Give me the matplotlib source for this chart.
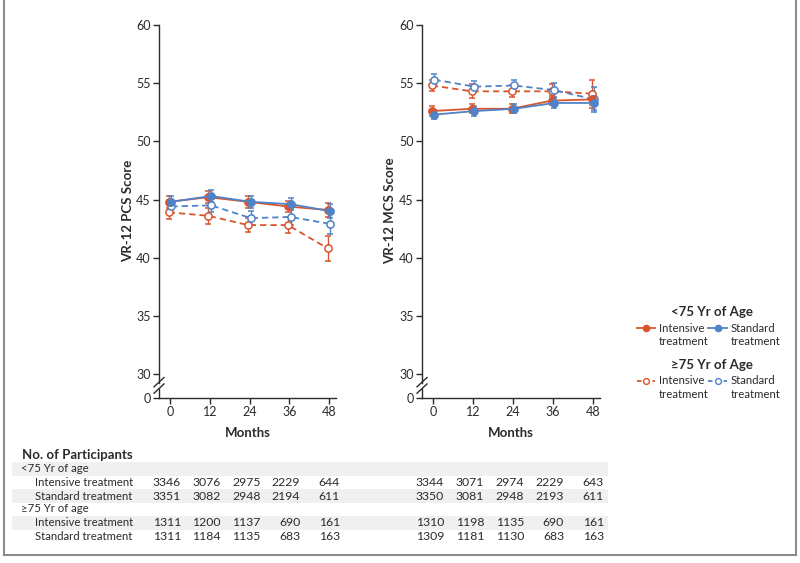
import matplotlib
matplotlib.use('Agg')
import matplotlib.pyplot as plt
from matplotlib.lines import Line2D
from matplotlib.patches import Rectangle
import matplotlib.transforms as mtransforms

plt.rcParams['font.family'] = ['Lato', 'DejaVu Sans']

# ---------------- data ----------------
months = [0, 12, 24, 36, 48]

pcs_int_lt75 = [44.8, 45.2, 44.8, 44.4, 44.1]
pcs_std_lt75 = [44.8, 45.3, 44.8, 44.6, 44.0]
pcs_int_ge75 = [43.9, 43.6, 42.8, 42.8, 40.8]
pcs_std_ge75 = [44.4, 44.5, 43.4, 43.5, 42.9]
pcs_int_lt75_err = [0.5, 0.5, 0.5, 0.5, 0.6]
pcs_std_lt75_err = [0.5, 0.5, 0.5, 0.5, 0.6]
pcs_int_ge75_err = [0.6, 0.7, 0.6, 0.7, 1.1]
pcs_std_ge75_err = [0.6, 0.6, 0.6, 0.7, 0.9]

mcs_int_lt75 = [52.6, 52.8, 52.8, 53.5, 53.6]
mcs_std_lt75 = [52.3, 52.6, 52.8, 53.3, 53.3]
mcs_int_ge75 = [54.8, 54.3, 54.3, 54.3, 54.1]
mcs_std_ge75 = [55.3, 54.7, 54.8, 54.4, 53.6]
mcs_int_lt75_err = [0.4, 0.4, 0.4, 0.4, 0.5]
mcs_std_lt75_err = [0.4, 0.4, 0.4, 0.4, 0.6]
mcs_int_ge75_err = [0.5, 0.6, 0.5, 0.6, 1.2]
mcs_std_ge75_err = [0.5, 0.5, 0.5, 0.6, 1.1]

row_labels = ["<75 Yr of age", "Intensive treatment", "Standard treatment",
              "\u226575 Yr of age", "Intensive treatment", "Standard treatment"]
n_pcs = [None, [3346, 3076, 2975, 2229, 644], [3351, 3082, 2948, 2194, 611],
         None, [1311, 1200, 1137, 690, 161], [1311, 1184, 1135, 683, 163]]
n_mcs = [None, [3344, 3071, 2974, 2229, 643], [3350, 3081, 2948, 2193, 611],
         None, [1310, 1198, 1135, 690, 161], [1309, 1181, 1130, 683, 163]]

yticks_vals = [30, 35, 40, 45, 50, 55, 60]

RED = '#D9542C'
BLUE = '#4F82C6'
INK = '#2B2B2B'

W, H = 800, 563
fig = plt.figure(figsize=(W / 100, H / 100), dpi=100)


def fx(px):
    return px / W


def fy(py):
    return 1 - py / H


ZERO_POS = 27.94  # axis position used for the "0" tick below the break


def draw_panel(left_px, right_px, series, ylabel, ylabel_x):
    ax = fig.add_axes([fx(left_px), fy(398), (right_px - left_px) / W, (398 - 25) / H])
    ax.set_xlim(-3.32, 50.1)
    ax.set_ylim(ZERO_POS, 60)
    for s in ['top', 'right', 'left']:
        ax.spines[s].set_visible(False)
    ax.spines['bottom'].set_color(INK)
    ax.spines['bottom'].set_linewidth(1.0)
    ax.set_xticks(months)
    ax.set_xticklabels([str(m) for m in months])
    ax.set_yticks([ZERO_POS] + yticks_vals)
    ax.set_yticklabels(['0'] + [str(v) for v in yticks_vals])
    ax.tick_params(axis='both', direction='out', length=4, width=1, color=INK,
                   labelsize=9, labelcolor=INK, pad=2)
    # broken left spine
    tr = ax.get_yaxis_transform()
    ax.add_line(Line2D([0, 0], [60, 29.25], transform=tr, color=INK, lw=1.0, clip_on=False))
    ax.add_line(Line2D([0, 0], [28.75, ZERO_POS], transform=tr, color=INK, lw=1.0, clip_on=False))
    dx = 5 / (right_px - left_px)
    for yc in (29.3, 28.75):
        ax.add_line(Line2D([-dx, dx], [yc - 0.4, yc + 0.4], transform=tr, color=INK,
                           lw=1.0, clip_on=False))

    for vals, errs, color, dashed, off in series:
        xs = [m + off for m in months]
        ls = (0, (3.5, 2.2)) if dashed else '-'
        mfc = 'white' if dashed else color
        ax.errorbar(xs, vals, yerr=errs, color=color, ls=ls, lw=1.3, marker='o',
                    ms=5.2, mfc=mfc, mec=color, mew=1.1, capsize=2, elinewidth=1.0,
                    capthick=1.0, clip_on=False, zorder=3)
    ax.set_xlabel('Months', fontsize=9.5, fontweight='bold', color=INK, labelpad=6)
    fig.text(fx(ylabel_x), fy(211), ylabel, rotation=90, ha='center', va='center',
             fontsize=9.5, fontweight='bold', color=INK)
    return ax


ax1 = draw_panel(159, 336, [
    (pcs_int_ge75, pcs_int_ge75_err, RED, True, -0.4),
    (pcs_std_ge75, pcs_std_ge75_err, BLUE, True, 0.4),
    (pcs_int_lt75, pcs_int_lt75_err, RED, False, -0.4),
    (pcs_std_lt75, pcs_std_lt75_err, BLUE, False, 0.4),
], 'VR-12 PCS Score', 128)

ax2 = draw_panel(422, 600, [
    (mcs_int_ge75, mcs_int_ge75_err, RED, True, -0.4),
    (mcs_std_ge75, mcs_std_ge75_err, BLUE, True, 0.4),
    (mcs_int_lt75, mcs_int_lt75_err, RED, False, -0.4),
    (mcs_std_lt75, mcs_std_lt75_err, BLUE, False, 0.4),
], 'VR-12 MCS Score', 390)

# ---------------- legend ----------------
def legend_item(x0, x1, y, color, dashed, label1, label2):
    xm = (x0 + x1) / 2
    ls = (0, (2.5, 1.8)) if dashed else '-'
    fig.add_artist(Line2D([fx(x0), fx(x1)], [fy(y), fy(y)], color=color, lw=1.3, ls=ls))
    fig.add_artist(Line2D([fx(xm)], [fy(y)], color=color, marker='o', ms=4.2 if dashed else 4.5,
                          mfc='white' if dashed else color, mec=color, mew=1.0, ls='none'))
    fig.text(fx(x1 + 4), fy(y), label1, ha='left', va='center', fontsize=8.2, color=INK)
    fig.text(fx(x1 + 4), fy(y + 13.5), label2, ha='left', va='center', fontsize=8.2, color=INK)


fig.text(fx(712), fy(312), '<75 Yr of Age', ha='center', va='center', fontsize=9.5,
         fontweight='bold', color=INK)
legend_item(637, 655, 328, RED, False, 'Intensive', 'treatment')
legend_item(708, 727, 328, BLUE, False, 'Standard', 'treatment')
fig.text(fx(712), fy(365), '\u226575 Yr of Age', ha='center', va='center', fontsize=9.5,
         fontweight='bold', color=INK)
legend_item(637, 655, 381, RED, True, 'Intensive', 'treatment')
legend_item(708, 727, 381, BLUE, True, 'Standard', 'treatment')

# ---------------- table ----------------
fig.text(fx(22), fy(455), 'No. of Participants', ha='left', va='center', fontsize=9.5,
         fontweight='bold', color=INK)
row_y = [469, 483, 496, 509, 523, 536]
for i, (lab, y) in enumerate(zip(row_labels, row_y)):
    if i % 2 == 0:
        fig.add_artist(Rectangle((fx(12), fy(y + 6.7)), fx(608 - 12), 13.4 / H,
                                 facecolor='#F0F0F0', edgecolor='none', zorder=0))
    indent = 21 if lab.endswith('age') else 35
    fig.text(fx(indent), fy(y), lab, ha='left', va='center', fontsize=8.2, color=INK)
    for ax, counts in ((ax1, n_pcs[i]), (ax2, n_mcs[i])):
        if counts is None:
            continue
        btr = mtransforms.blended_transform_factory(ax.transData, fig.transFigure)
        for m, c in zip(months, counts):
            fig.text(m + 3.3, fy(y), str(c), transform=btr, ha='right', va='center',
                     fontsize=8.8, color=INK)

# ---------------- frame ----------------
for xs, ys in (([4, 4], [0, 555]), ([796, 796], [0, 555]), ([4, 796], [555, 555])):
    fig.add_artist(Line2D([fx(v) for v in xs], [fy(v) for v in ys], color='#8C8C8C', lw=1.5))

fig.savefig('out.png', dpi=100)
